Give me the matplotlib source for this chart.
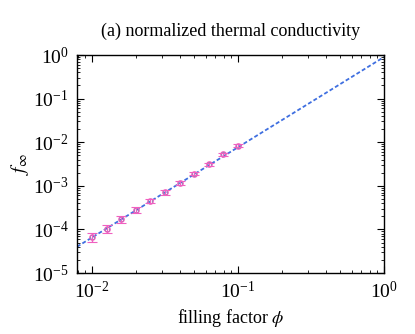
import matplotlib
matplotlib.use("Agg")
import matplotlib.pyplot as plt
from matplotlib.ticker import LogLocator, NullFormatter

plt.rcParams["font.family"] = ["Liberation Serif", "DejaVu Serif"]
plt.rcParams["mathtext.fontset"] = "stix"

# measured points
phi = [0.0100, 0.0126, 0.0158, 0.0200, 0.0251, 0.0316, 0.0398, 0.0501, 0.0631, 0.0794, 0.1000]
f_inf = [6.6e-5, 1.04e-4, 1.73e-4, 2.83e-4, 4.48e-4, 7.09e-4, 1.18e-3, 1.91e-3, 3.16e-3, 5.27e-3, 8.31e-3]
f_err = [1.5e-5, 2.2e-5, 3.0e-5, 4.0e-5, 5.5e-5, 8.0e-5, 1.2e-4, 1.7e-4, 2.6e-4, 4.0e-4, 6.0e-4]

fit_phi = [0.0079, 1.0]
fit_f = [4.0e-5, 0.9]

fig = plt.figure(figsize=(4.15, 3.34), dpi=100)
ax = fig.add_axes([0.1855, 0.1826, 0.7398, 0.6527])

ax.plot(fit_phi, fit_f, color="#3f6fe0", lw=1.3, ls=(0, (2.2, 1.3)), zorder=1)
ax.errorbar(phi, f_inf, yerr=f_err, fmt="s", ms=3.2, mfc="none", mec="#7f8fb0",
            ecolor="#8a8fa8", elinewidth=0.8, capsize=2.5, capthick=0.8, mew=0.7, zorder=2)
ax.errorbar(phi, f_inf, yerr=f_err, fmt="o", ms=4.0, mfc="none", mec="#f060c0",
            ecolor="#f060c0", elinewidth=0.9, capsize=3.5, capthick=0.9, mew=0.8, zorder=3)

ax.set_xscale("log")
ax.set_yscale("log")
ax.set_xlim(0.0079, 1.0)
ax.set_ylim(1e-5, 1.0)

ax.xaxis.set_major_locator(LogLocator(base=10, numticks=10))
ax.yaxis.set_major_locator(LogLocator(base=10, numticks=10))
ax.xaxis.set_minor_locator(LogLocator(base=10, subs=range(2, 10), numticks=20))
ax.yaxis.set_minor_locator(LogLocator(base=10, subs=range(2, 10), numticks=20))
ax.xaxis.set_minor_formatter(NullFormatter())
ax.yaxis.set_minor_formatter(NullFormatter())

ax.tick_params(which="both", direction="in", top=True, right=True, labelsize=14, pad=6)
ax.tick_params(which="major", length=5, width=0.8)
ax.tick_params(which="minor", length=2.5, width=0.6)
for s in ax.spines.values():
    s.set_linewidth(1.0)

ax.set_title("(a) normalized thermal conductivity", fontsize=13, pad=14)
ax.set_xlabel(r"filling factor $\phi$", fontsize=13, labelpad=3)
ax.set_ylabel(r"$f_\infty$", fontsize=14, labelpad=1)

fig.savefig("out.png", dpi=100)
